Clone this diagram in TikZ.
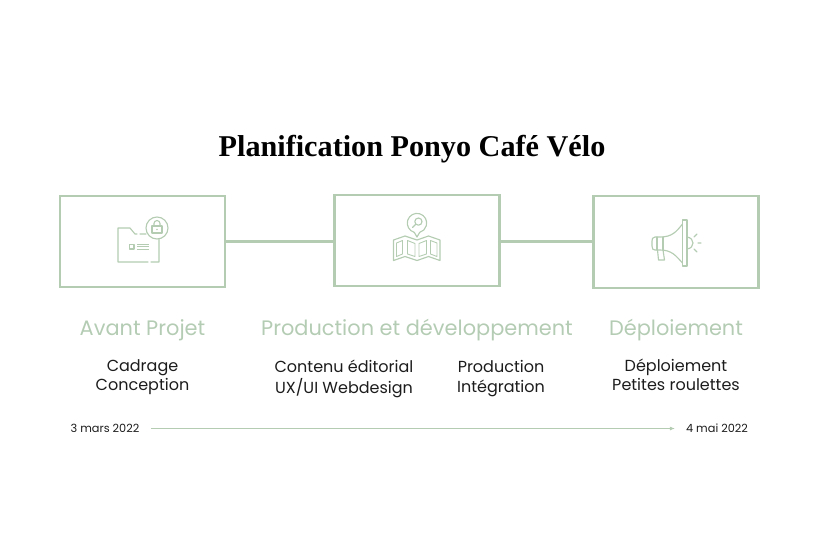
\documentclass[tikz,border=0pt]{standalone}
\usepackage{fontspec}
\setmainfont{Poppins}
\newfontfamily\titlefont{Liberation Serif}[BoldFont={Liberation Serif Bold}]
\definecolor{sage}{HTML}{B4CDB2}
\definecolor{sagetext}{HTML}{B4CCB3}
\definecolor{ink}{HTML}{1C1C1C}
\usetikzlibrary{arrows.meta}
\tikzset{
  panel/.style={draw=sage,line width=2.2pt,minimum width=165pt,minimum height=91pt,inner sep=0pt,outer sep=0pt},
  link/.style={draw=sage,line width=2.2pt},
  glyph/.style={draw=sage,line width=1.15pt,line join=round,line cap=round},
  heading/.style={text=sagetext,font=\fontsize{20.9}{24}\selectfont,inner sep=0pt},
  item/.style={text=ink,font=\fontsize{16}{19}\selectfont,inner sep=0pt},
  datelabel/.style={text=ink,font=\fontsize{11.3}{13}\selectfont,inner sep=0pt},
  timeline/.style={draw=sage,line width=0.9pt,-{Latex[length=5pt,width=4pt]},shorten <=11pt,shorten >=11pt}
}
\begin{document}
\begin{tikzpicture}[x=1pt,y=-1pt]
\useasboundingbox (0,0) rectangle (824,550);

\node[text=black,inner sep=0pt,font=\titlefont\bfseries\fontsize{30.2}{36}\selectfont] (title) at (412,149.5) {Planification Ponyo Café Vélo};

% Phase panels and their links
\node[panel] (avant) at (142.5,241.5) {};
\node[panel] (prod) at (417,240.5) {};
\node[panel,minimum height=92pt] (deploi) at (676,242) {};
\coordinate (linkA) at (avant.east |- 0,241.5);
\coordinate (linkB) at (prod.west |- 0,241.5);
\coordinate (linkC) at (prod.east |- 0,241.5);
\coordinate (linkD) at (deploi.west |- 0,241.5);
\draw[link] (linkA) -- (linkB);
\draw[link] (linkC) -- (linkD);

% Folder with padlock
\draw[glyph] (146,234) -- (140,234) (137,234) -- (135,234) -- (130,228) -- (118,228) -- (118,262) -- (148,262) (151,262) -- (159,262) -- (159,239);
\draw[glyph] (157,228) circle (11);
\draw[glyph] (152,226) rectangle (162,233);
\draw[glyph] (154,226) -- (154,223.5) arc[start angle=180,end angle=360,radius=3] -- (160,226);
\fill[sage] (157,229.5) circle (0.9);
\draw[glyph] (129.5,244.5) rectangle (134,249);
\draw[glyph,line width=0.8pt,line cap=butt] (137,244.3) -- (149,244.3) (137,246.7) -- (149,246.7) (137,249) -- (149,249);

% Folded map with search pin
\draw[glyph] (414.3,232.4) arc[start angle=106,end angle=434,radius=9.7] -- (417,237) -- cycle;
\draw[glyph] (418.4,221.6) circle (3.6);
\draw[glyph] (415.8,224.2) -- (412.5,227.5);
\draw[glyph] (393.5,240) -- (405,236) -- (417,240) -- (428.5,236) -- (440,240) -- (440,260.5) -- (428.5,256.5) -- (417,260.5) -- (405,256.5) -- (393.5,260.5) -- cycle;
\draw[glyph,line width=0.9pt] (396.5,243) -- (402.5,240.5) -- (402.5,254) -- (396.5,256.5) -- cycle;
\draw[glyph,line width=0.9pt] (407.5,240.5) -- (415,243.5) -- (415,256.5) -- (407.5,254) -- cycle;
\draw[glyph,line width=0.9pt] (419,243.5) -- (426.5,240.5) -- (426.5,254) -- (419,256.5) -- cycle;
\draw[glyph,line width=0.9pt] (430.5,240.5) -- (437,243) -- (437,256.5) -- (430.5,254) -- cycle;

% Megaphone
\draw[glyph] (682.5,220) rectangle (687,266);
\draw[glyph] (682.5,224) .. controls (676,232) and (672,237) .. (660,237) -- (655,237) .. controls (652.5,237) and (652,239) .. (652,241) -- (652,246) .. controls (652,249) and (653,250) .. (655,250) -- (660,250) .. controls (672,250) and (676,256) .. (682.5,263);
\draw[glyph] (657,237) -- (657,250) (663,237) -- (663,250);
\draw[glyph] (657.5,250) -- (658.5,260) -- (664.5,260) -- (663,250);
\draw[glyph] (687,237) .. controls (695,238) and (695,248) .. (687,249);
\draw[glyph] (694,237) -- (697,234) (698,243) -- (701,243) (694,249) -- (697,252);

% Phase titles
\node[heading] (h1) at (142.5,330) {Avant Projet};
\node[heading] (h2) at (417,330) {Production et développement};
\node[heading] (h3) at (676,330) {Déploiement};

% Phase contents
\node[item] (a1) at (142.5,368) {Cadrage};
\node[item] (a2) at (142.5,386) {Conception};
\node[item] (b1) at (344,366) {Contenu éditorial};
\node[item] (b2) at (344,388.5) {UX/UI Webdesign};
\node[item] (c1) at (501,366) {Production};
\node[item] (c2) at (501,388.5) {Intégration};
\node[item] (d1) at (676,367) {Déploiement};
\node[item] (d2) at (676,384.5) {Petites roulettes};

% Calendar line
\node[datelabel] (start) at (105,428.5) {3 mars 2022};
\node[datelabel] (end) at (717,428.5) {4 mai 2022};
\draw[timeline] (start) -- (end);
\end{tikzpicture}
\end{document}
